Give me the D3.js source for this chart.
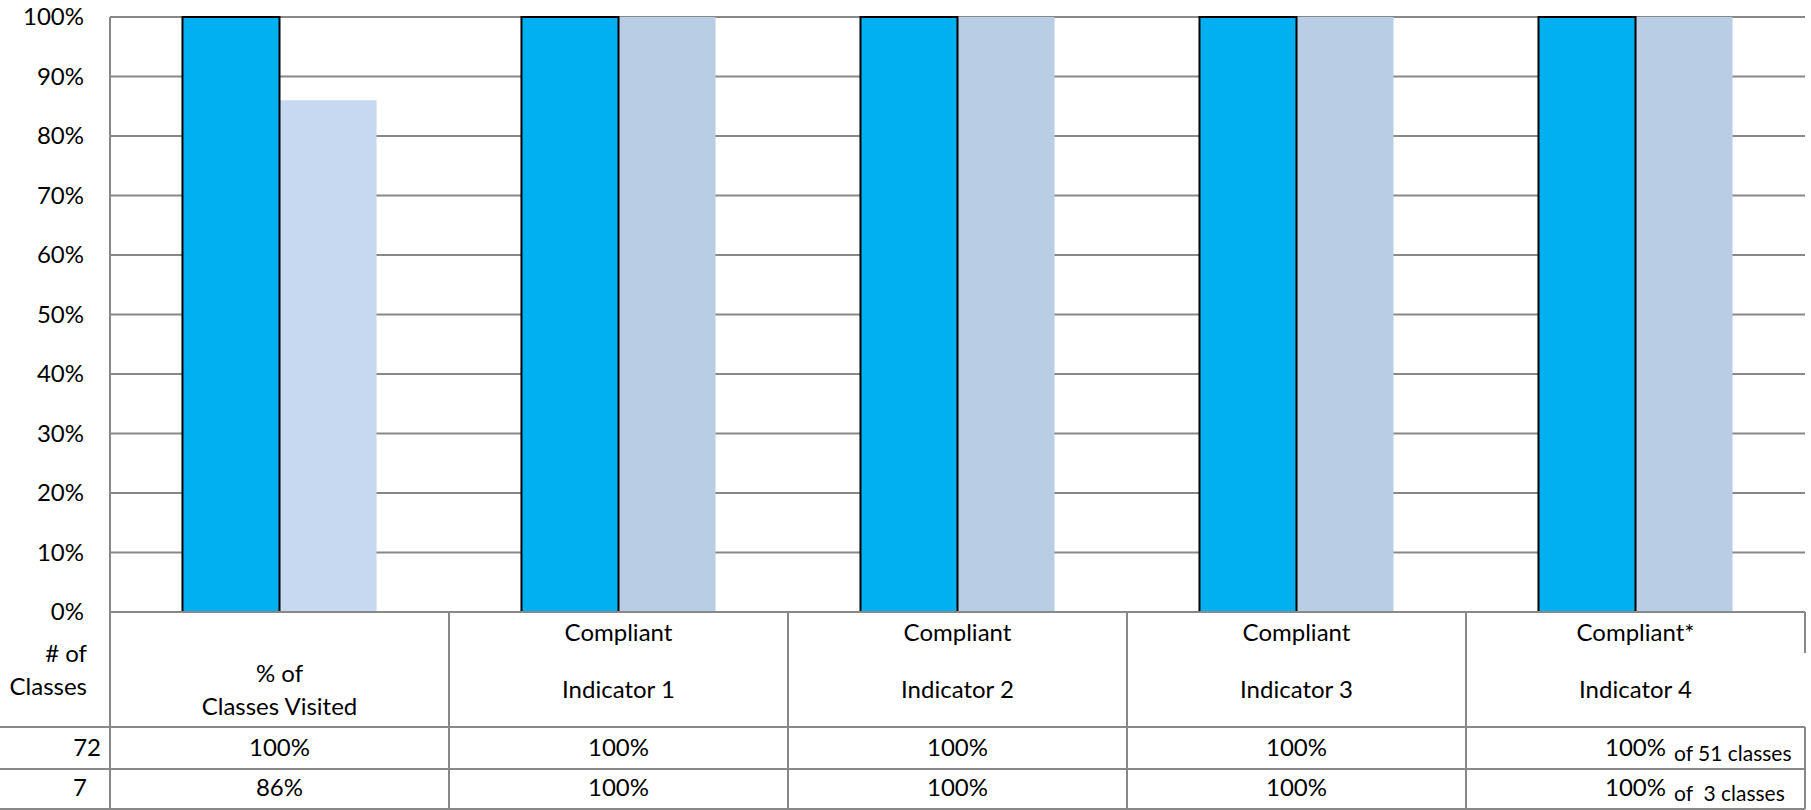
<!DOCTYPE html>
<html>
<head>
<meta charset="utf-8">
<script src="https://cdn.jsdelivr.net/npm/d3@7"></script>
<style>
  body { margin: 0; background: #fff; }
  text { font-family: Lato, "Open Sans", sans-serif; fill: #000; }
</style>
</head>
<body>
<div id="chart"></div>
<script>
// categories along the bottom (two-line header cells)
let headerTop = ["", "Compliant", "Compliant", "Compliant", "Compliant*"];
let headerBottom = [["% of", "Classes Visited"], ["Indicator 1"], ["Indicator 2"], ["Indicator 3"], ["Indicator 4"]];

// series values (percent)
let series72 = [100, 100, 100, 100, 100];
let series7 = [86, 100, 100, 100, 100];
let classCounts = ["72", "7"];
let lastColNotes = ["of 51 classes", "of  3 classes"];

let yTicks = [0, 10, 20, 30, 40, 50, 60, 70, 80, 90, 100];
let lightColors = ["#c6d9f1", "#b9cde5", "#b9cde5", "#b9cde5", "#b9cde5"];

let w = 1811;
let h = 810;

let svg = d3.select("#chart")
  .append("svg")
  .attr("width", w)
  .attr("height", h)
  .style("background-color", "white");

let plotLeft = 110, plotRight = 1805, plotTop = 17, plotBottom = 612;
let headerBottomY = 727, row1Bottom = 769, row2Bottom = 809;

let x = d3.scaleBand()
  .domain(d3.range(headerBottom.length))
  .range([plotLeft, plotRight])
  .padding(0);

let x1 = d3.scaleBand()
  .domain(["a", "b"])
  .range([0, x.bandwidth()])
  .paddingInner(0)
  .paddingOuter(0.747);

let y = d3.scaleLinear()
  .domain([0, 100])
  .range([plotBottom, plotTop]);

let gridColor = "#888888";

// gridlines
svg.append("g")
  .selectAll("line")
  .data(yTicks)
  .join("line")
  .attr("x1", plotLeft)
  .attr("x2", plotRight)
  .attr("y1", d => y(d))
  .attr("y2", d => y(d))
  .style("stroke", gridColor)
  .style("stroke-width", 2);

// y axis labels
let yAxis = svg.append("g")
  .attr("transform", `translate(${plotLeft},0)`)
  .call(d3.axisLeft(y).tickValues(yTicks).tickSize(0).tickPadding(26).tickFormat(d => d + "%"));
yAxis.select(".domain").remove();
yAxis.selectAll("text")
  .style("font-family", "Lato, sans-serif")
  .style("font-size", "24px")
  .attr("fill", "#000");

// light bars (7 classes)
svg.append("g")
  .selectAll("rect")
  .data(series7)
  .join("rect")
  .attr("x", (d, i) => x(i) + x1("b"))
  .attr("y", d => y(d))
  .attr("width", x1.bandwidth())
  .attr("height", d => y(0) - y(d))
  .style("fill", (d, i) => lightColors[i]);

// blue bars (72 classes)
svg.append("g")
  .selectAll("rect")
  .data(series72)
  .join("rect")
  .attr("x", (d, i) => x(i) + x1("a"))
  .attr("y", d => y(d))
  .attr("width", x1.bandwidth())
  .attr("height", d => y(0) - y(d))
  .style("fill", "#00b0f0")
  .style("stroke", "#000")
  .style("stroke-width", 2);

// axis line / table top
svg.append("line")
  .attr("x1", plotLeft).attr("x2", plotRight)
  .attr("y1", plotBottom).attr("y2", plotBottom)
  .style("stroke", gridColor).style("stroke-width", 2);

// left plot border
svg.append("line")
  .attr("x1", plotLeft).attr("x2", plotLeft)
  .attr("y1", plotTop).attr("y2", row2Bottom)
  .style("stroke", gridColor).style("stroke-width", 2);

// table horizontal lines
svg.append("g")
  .selectAll("line")
  .data([headerBottomY, row1Bottom, row2Bottom])
  .join("line")
  .attr("x1", 0).attr("x2", plotRight)
  .attr("y1", d => d).attr("y2", d => d)
  .style("stroke", gridColor).style("stroke-width", 2);

// table vertical lines between columns
let colEdges = d3.range(1, headerBottom.length).map(i => x(i));
svg.append("g")
  .selectAll("line")
  .data(colEdges)
  .join("line")
  .attr("x1", d => d).attr("x2", d => d)
  .attr("y1", plotBottom).attr("y2", row2Bottom)
  .style("stroke", gridColor).style("stroke-width", 2);

// right edge: short piece at header top, then the rows
svg.append("line")
  .attr("x1", plotRight).attr("x2", plotRight)
  .attr("y1", plotBottom).attr("y2", 653)
  .style("stroke", gridColor).style("stroke-width", 2);
svg.append("line")
  .attr("x1", plotRight).attr("x2", plotRight)
  .attr("y1", headerBottomY).attr("y2", row2Bottom)
  .style("stroke", gridColor).style("stroke-width", 2);

// header texts
let cx = i => x(i) + x.bandwidth() / 2;

svg.append("g")
  .selectAll("text")
  .data(headerTop)
  .join("text")
  .attr("x", (d, i) => cx(i))
  .attr("y", 633)
  .attr("dy", "0.35em")
  .attr("text-anchor", "middle")
  .style("font-size", "24px")
  .text(d => d);

headerBottom.forEach((lines, i) => {
  let startY = lines.length > 1 ? 674 : 690;
  svg.append("g")
    .selectAll("text")
    .data(lines)
    .join("text")
    .attr("x", cx(i))
    .attr("y", (d, j) => startY + j * 33)
    .attr("dy", "0.35em")
    .attr("text-anchor", "middle")
    .style("font-size", "24px")
    .text(d => d);
});

// row header
svg.append("g")
  .selectAll("text")
  .data(["# of", "Classes"])
  .join("text")
  .attr("x", 87)
  .attr("y", (d, j) => 654 + j * 33)
  .attr("dy", "0.35em")
  .attr("text-anchor", "end")
  .style("font-size", "24px")
  .text(d => d);

// rows
let rows = [series72, series7];
let rowY = [748, 788];

rows.forEach((vals, r) => {
  svg.append("text")
    .attr("x", r === 0 ? 101 : 87)
    .attr("y", rowY[r])
    .attr("dy", "0.35em")
    .attr("text-anchor", "end")
    .style("font-size", "24px")
    .text(classCounts[r]);

  let g = svg.append("g");
  g.selectAll("text")
    .data(vals)
    .join("text")
    .attr("x", (d, i) => cx(i))
    .attr("y", rowY[r])
    .attr("dy", "0.35em")
    .attr("text-anchor", "middle")
    .style("font-size", "24px")
    .text(d => d + "%");

  // note after the last column value
  let last = g.selectAll("text").filter((d, i) => i === vals.length - 1).node();
  let len = last.getComputedTextLength();
  svg.append("text")
    .attr("x", cx(vals.length - 1) + len / 2 + 8)
    .attr("y", rowY[r] + 6)
    .attr("dy", "0.35em")
    .attr("xml:space", "preserve")
    .style("white-space", "pre")
    .style("font-size", "21px")
    .text(lastColNotes[r]);
});
</script>
</body>
</html>
